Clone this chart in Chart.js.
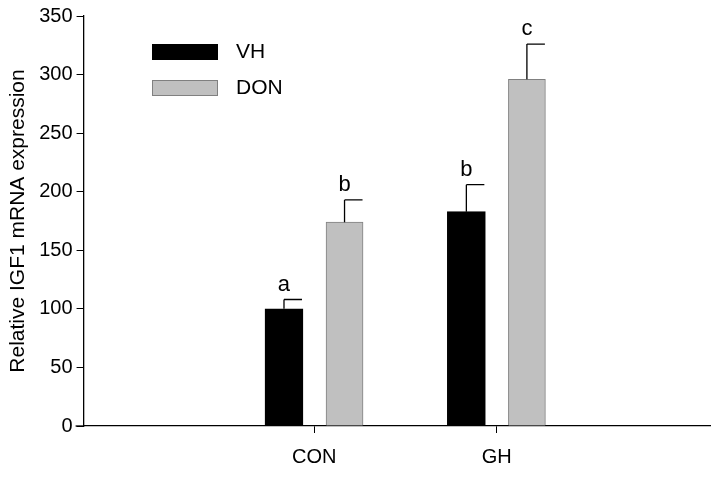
<!DOCTYPE html>
<html><head><script src="https://cdn.jsdelivr.net/npm/chart.js@4"></script>
<style>body{margin:0;background:#fff}#w{width:720px;height:485px}</style></head>
<body><div id="w"><canvas id="c"></canvas></div>
<script>
const categories=['CON','GH'];
const vhValues=[100,183];
const vhErrors=[8,23];
const donValues=[174,296];
const donErrors=[19,30];
const vhLetters=['a','b'];
const donLetters=['b','c'];
const yTicks=[0,50,100,150,200,250,300,350];
const F='"Liberation Sans", Arial, sans-serif';
const off=0.166;
const mk=(vals,s)=>vals.map((v,i)=>({x:i+1+s,y:v}));
const errPlugin={id:'err',afterDatasetsDraw(ch){
  const ctx=ch.ctx,xs=ch.scales.x,ys=ch.scales.y;
  ctx.save();ctx.strokeStyle='#000';ctx.lineWidth=1.3;ctx.fillStyle='#000';
  ctx.font='22px '+F;ctx.textAlign='center';ctx.textBaseline='bottom';
  [[vhValues,vhErrors,vhLetters,-off],[donValues,donErrors,donLetters,off]].forEach(([v,e,l,s])=>{
    v.forEach((val,i)=>{const x=xs.getPixelForValue(i+1+s),y0=ys.getPixelForValue(val),y1=ys.getPixelForValue(val+e[i]);
      ctx.beginPath();ctx.moveTo(x,y0);ctx.lineTo(x,y1);ctx.moveTo(x,y1);ctx.lineTo(x+18,y1);ctx.stroke();
      ctx.fillText(l[i],x,y1-4);});
  });
  ctx.lineWidth=1;ctx.textAlign='left';ctx.textBaseline='middle';ctx.font='21px '+F;
  ctx.fillStyle='#000';ctx.fillRect(152,44,66,16);
  ctx.fillStyle='#c0c0c0';ctx.fillRect(152,80,66,16);ctx.strokeStyle='#808080';ctx.strokeRect(152.5,80.5,65,15);
  ctx.fillStyle='#000';ctx.fillText('VH',236,52);ctx.fillText('DON',236,88);
  // axis extension left of y axis
  ctx.strokeStyle='#000';ctx.lineWidth=1.3;const yb=ys.getPixelForValue(0);
  ctx.beginPath();ctx.moveTo(ch.chartArea.left-8,yb);ctx.lineTo(ch.chartArea.left,yb);ctx.stroke();
  ctx.restore();}};
new Chart(document.getElementById('c'),{type:'bar',
 data:{datasets:[
  {label:'VH',data:mk(vhValues,-off),backgroundColor:'#000',borderColor:'#000',borderWidth:1,barThickness:38},
  {label:'DON',data:mk(donValues,off),backgroundColor:'#c0c0c0',borderColor:'#808080',borderWidth:1,barThickness:37}]},
 options:{responsive:true,maintainAspectRatio:false,animation:false,
  layout:{padding:{top:14,right:10,left:2,bottom:4}},
  plugins:{legend:{display:false},tooltip:{enabled:false}},
  datasets:{bar:{grouped:false}},
  scales:{
   x:{type:'linear',min:-0.265,max:3.17,offset:false,
     afterBuildTicks:a=>{a.ticks=[{value:1},{value:2}];},
     grid:{display:true,offset:false,drawOnChartArea:false,tickLength:7,color:'#000'},
     border:{color:'#000',width:1.3},
     ticks:{color:'#000',font:{size:20,family:F},padding:12,callback:v=>categories[v-1]||''}},
   y:{min:0,max:350,afterBuildTicks:a=>{a.ticks=yTicks.map(v=>({value:v}));},
     grid:{drawOnChartArea:false,tickLength:7,color:'#000'},
     border:{color:'#000',width:1.3},
     ticks:{color:'#000',font:{size:20,family:F},padding:4},
     title:{display:true,text:'Relative IGF1 mRNA expression',color:'#000',font:{size:21,family:F},padding:{bottom:4}}}}},
 plugins:[errPlugin]});
</script></body></html>
